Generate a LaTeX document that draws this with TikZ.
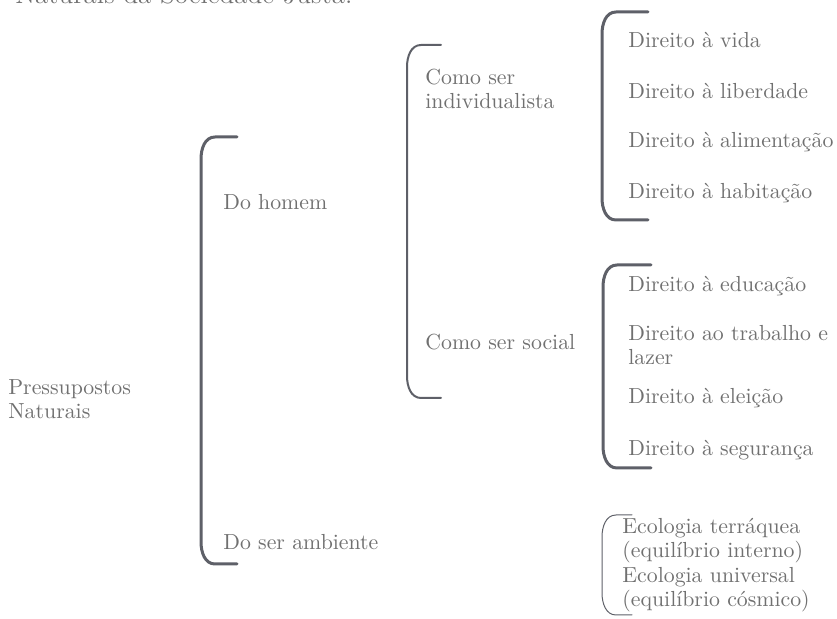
\documentclass[tikz,border=0pt]{standalone}
\usepackage{tikz}
\definecolor{texto}{HTML}{707070}
\definecolor{traco}{HTML}{5E6068}
\begin{document}
\begin{tikzpicture}[x=0.5pt, y=-0.5pt, line join=round, line cap=round,
		every node/.style={text=texto, inner sep=0pt, anchor=west, align=left, font=\fontsize{10.9}{12.2}\selectfont}]
			\tikzset{pics/colchete/.style args={#1/#2}{code={
					\draw (#2,0)--(14,0) to[out=180,in=90] (0,22)--(0,#1-22) to[out=-90,in=180] (14,#1)--(#2,#1);
			}}}
			\useasboundingbox (0,0) rectangle (837,619);
			\clip (0,0) rectangle (837,619);
			% titulo cortado no topo
			\node[anchor=base west, font=\fontsize{13.5}{16}\selectfont] (titulo) at (15,4) {Naturais da Sociedade Justa.};
			% colchetes
			\path[draw=traco, line width=1.5pt] (201,137) pic{colchete=427/36};
			\path[draw=traco, line width=1pt] (407,45) pic{colchete=353/34};
			\path[draw=traco, line width=1.5pt] (602,12) pic{colchete=208/46};
			\path[draw=traco, line width=1.5pt] (603,265) pic{colchete=203/48};
			\path[draw=traco, line width=0.5pt] (602,515) pic{colchete=100/30};
			% textos
			\node (pressupostos) at (8,399) {Pressupostos\\Naturais};
			\node (homem) at (223,202) {Do homem};
			\node (ambiente) at (223,542) {Do ser ambiente};
			\node (individual) at (425,89) {Como ser\\individualista};
			\node (social) at (425,342) {Como ser social};
			\node (vida) at (628,40) {Direito à vida};
			\node (liberdade) at (628,91) {Direito à liberdade};
			\node (alimentacao) at (628,142) {Direito à alimentação};
			\node (habitacao) at (628,193) {Direito à habitação};
			\node (educacao) at (628,286) {Direito à educação};
			\node (trabalho) at (628,345) {Direito ao trabalho e\\lazer};
			\node (eleicao) at (628,398) {Direito à eleição};
			\node (seguranca) at (628,450) {Direito à segurança};
			\node (ecologia) at (622,565) {Ecologia terráquea\\(equilíbrio interno)\\Ecologia universal\\(equilíbrio cósmico)};
		\end{tikzpicture}
\end{document}
